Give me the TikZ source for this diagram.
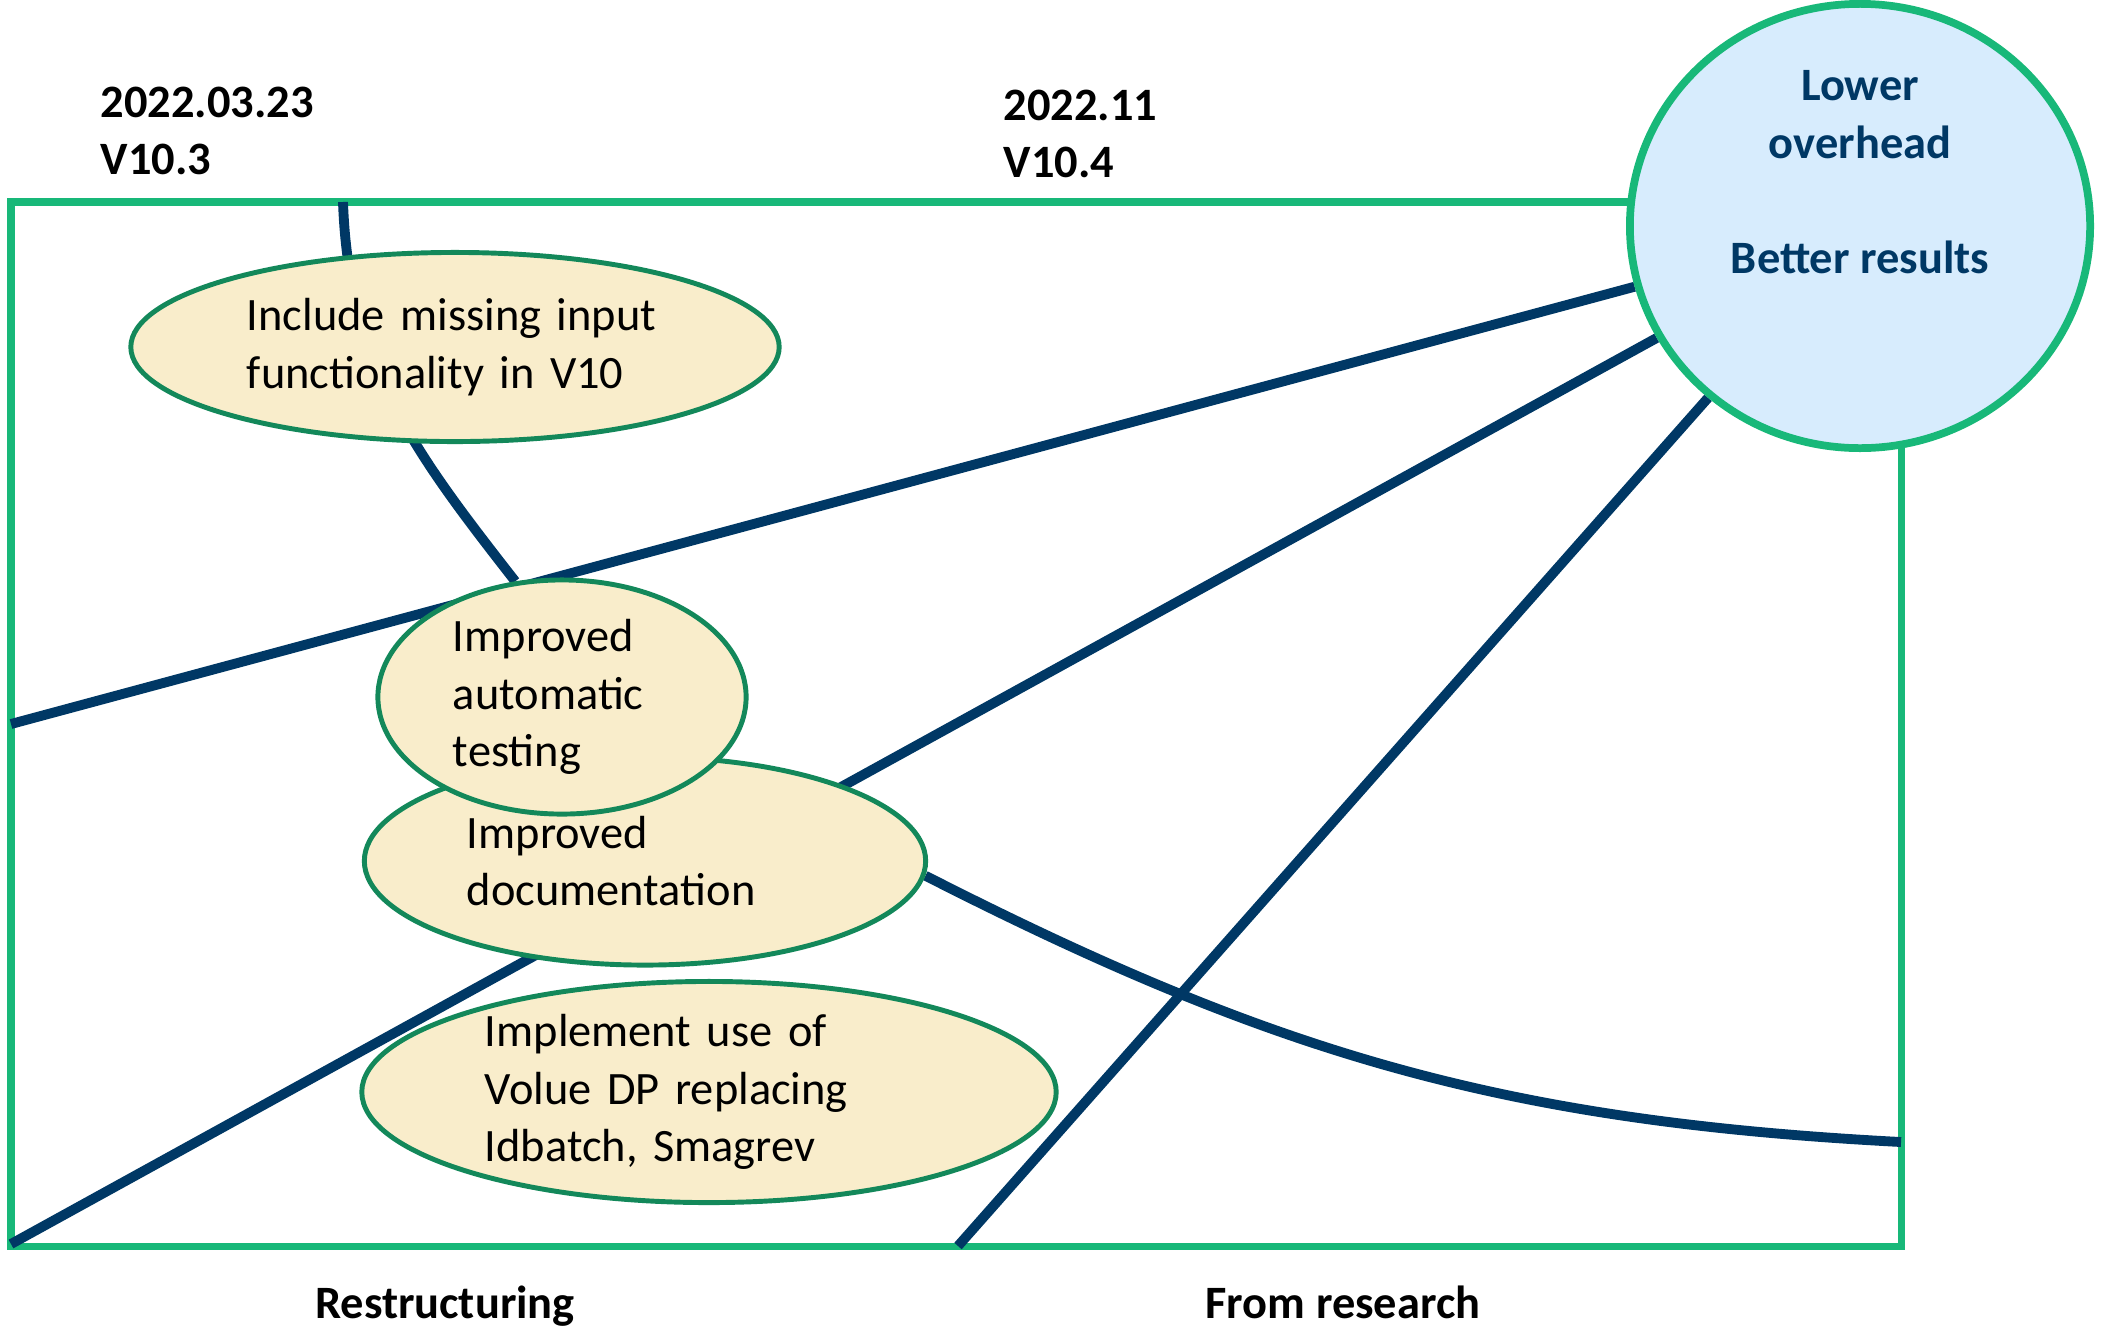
\documentclass[tikz,border=0pt]{standalone}
\usepackage{fontspec}
\setmainfont{Carlito}
\usepackage{xcolor}
\usepackage{tikz}
\usetikzlibrary{arrows.meta, positioning, shapes}

\definecolor{framegreen}{RGB}{24,184,121}
\definecolor{edgegreen}{RGB}{19,136,90}
\definecolor{ideafill}{RGB}{249,237,203}
\definecolor{goalfill}{RGB}{215,236,253}
\definecolor{navy}{RGB}{0,56,101}

\pgfdeclarelayer{background}
\pgfsetlayers{background,main}

\begin{document}
\begin{tikzpicture} [x=0.01cm, y=-0.01cm,
    every node/.style={font=\fontsize{13.2}{16.4}\selectfont, inner sep=0pt},
    idea/.style={ellipse, draw=edgegreen, line width=1.4pt, fill=ideafill, align=left},
    goal/.style={ellipse, draw=framegreen, line width=2.2pt, fill=goalfill},
    tag/.style={font=\fontsize{13.2}{16.4}\selectfont\bfseries, align=left},
    link/.style={navy, line width=2.8pt}]
\useasboundingbox (0,0) rectangle (2101,1333);

\node (0) [goal, minimum width=4.6cm, minimum height=4.44cm] at (1860,226) {};
\node (1) [tag, text=navy, align=center] at (1860,172) {Lower\\overhead\\[16.4pt]Better results};

\node (2) [idea, minimum width=6.48cm, minimum height=1.89cm, text width=4.16cm] at (455,347) {Include missing input\\functionality in V10};
\node (3) [idea, minimum width=5.61cm, minimum height=2.08cm, text width=3.56cm] at (645,861) {Improved\\documentation};
\node (4) [idea, minimum width=3.68cm, minimum height=2.34cm, text width=2.18cm] at (562,697) {Improved\\automatic\\testing};
\node (5) [idea, minimum width=6.94cm, minimum height=2.21cm, text width=4.48cm] at (709,1092) {Implement use of\\Volue DP replacing\\Idbatch, Smagrev};

\node (6) [tag, anchor=west] at (100,131) {2022.03.23\\V10.3};
\node (7) [tag, anchor=west] at (1003,134) {2022.11\\V10.4};
\node (8) [tag, anchor=base] at (445,1318) {Restructuring};
\node (9) [tag, anchor=base] at (1343,1318) {From research};

\begin{pgfonlayer}{background}
\draw [framegreen, line width=2pt] (11,202) rectangle (1901,1246);
\coordinate (a) at (11,724);
\coordinate (b) at (11,1244);
\coordinate (c) at (958,1246);
\coordinate (d) at (1901,1142);
\coordinate (e) at (343,202);

\path [link]
    (0) edge (a)
    (0) edge (b)
    (0) edge (c)
    (3.-3) edge [out=-27, in=177] (d)
    (e) edge [out=-88, in=128] (4.112);
\end{pgfonlayer}
\end{tikzpicture}
\end{document}
